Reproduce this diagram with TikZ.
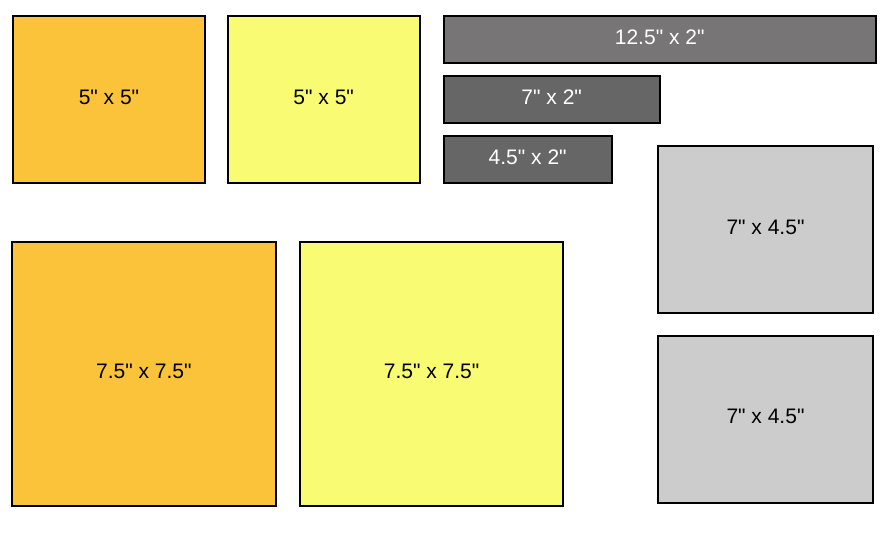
\documentclass[tikz,border=0pt]{standalone}
\usepackage{fontspec}
\newfontfamily\sheetfont{Liberation Sans}
\usetikzlibrary{positioning}
\definecolor{shtOrange}{HTML}{FBC339}
\definecolor{shtYellow}{HTML}{F9FB72}
\definecolor{shtSlate}{HTML}{777575}
\definecolor{shtDark}{HTML}{666666}
\definecolor{shtLight}{HTML}{CCCCCC}
\tikzset{
    sheet/.style={draw=black, line width=2pt, outer sep=0pt, inner sep=0pt, anchor=north west, align=center, text height=15pt, text depth=6pt, font=\sheetfont\fontsize{21}{25}\selectfont},
    goldsheet/.style={sheet, fill=shtOrange},
    lemonsheet/.style={sheet, fill=shtYellow},
    slatesheet/.style={sheet, fill=shtSlate, text=white},
    darksheet/.style={sheet, fill=shtDark, text=white},
    greysheet/.style={sheet, fill=shtLight}
}

\begin{document}
\begin{tikzpicture}[x=1pt, y=-1pt]
\useasboundingbox (0,0) rectangle (883,541);
\node[goldsheet, minimum width=191.4pt, minimum height=167.3pt] (smallGold) at (13.3,16) {5" x 5"};
\node[lemonsheet, minimum width=192pt, minimum height=167.3pt, right=23pt of smallGold] (smallLemon) {5" x 5"};
\node[slatesheet, minimum width=432pt, minimum height=47.3pt, right=24pt of smallLemon.north east, anchor=north west] (stripLong) {12.5" x 2"};
\node[darksheet, minimum width=216pt, minimum height=47.3pt, below=12.7pt of stripLong.south west, anchor=north west] (stripMid) {7" x 2"};
\node[darksheet, minimum width=168pt, minimum height=47.3pt, below=12.7pt of stripMid.south west, anchor=north west] (stripShort) {4.5" x 2"};
\node[greysheet, minimum width=215.6pt, minimum height=167.3pt] (panelTop) at (657.7,146) {7" x 4.5"};
\node[greysheet, minimum width=215.6pt, minimum height=166.7pt, below=22.7pt of panelTop] (panelBottom) {7" x 4.5"};
\node[goldsheet, minimum width=263.7pt, minimum height=264pt] (bigGold) at (12,241.7) {7.5" x 7.5"};
\node[lemonsheet, minimum width=263.3pt, minimum height=264pt, right=24.3pt of bigGold] (bigLemon) {7.5" x 7.5"};
\end{tikzpicture}
\end{document}
